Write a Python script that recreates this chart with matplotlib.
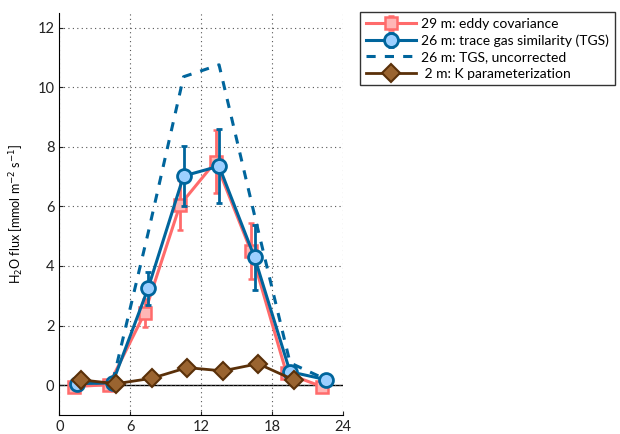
import matplotlib
matplotlib.use("Agg")
import matplotlib.pyplot as plt

plt.rcParams["font.family"] = ["Lato", "DejaVu Sans"]

# hour of day
hour_ec = [1.2, 4.2, 7.2, 10.2, 13.2, 16.2, 19.2, 22.2]
hour_tgs = [1.5, 4.5, 7.5, 10.5, 13.5, 16.5, 19.5, 22.5]
hour_k = [1.8, 4.8, 7.8, 10.8, 13.8, 16.8, 19.8]

# H2O flux [mmol m-2 s-1]
flux_ec = [-0.05, 0.02, 2.41, 6.05, 7.5, 4.5, 0.4, -0.05]
err_ec = [0, 0, 0.47, 0.85, 1.06, 0.93, 0, 0]
flux_tgs = [0.05, 0.08, 3.25, 7.02, 7.35, 4.29, 0.45, 0.19]
err_tgs = [0, 0, 0.55, 1.02, 1.23, 1.1, 0, 0]
flux_tgs_raw = [0.05, 0.1, 5.1, 10.35, 10.75, 5.7, 0.75, 0.2]
flux_k = [0.18, 0.05, 0.23, 0.59, 0.48, 0.72, 0.18]

red = "#ff6b6b"
blue = "#00659c"
brown = "#5a3009"

fig = plt.figure(figsize=(6.2, 4.34), dpi=100)
ax = fig.add_axes([0.0957, 0.0438, 0.458, 0.927])

ax.axhline(0, color="black", linewidth=1, zorder=1)

ax.errorbar(hour_ec, flux_ec, yerr=err_ec, color=red, linewidth=2.2,
            marker="s", markersize=8.5, markerfacecolor="#ffb6b6",
            markeredgecolor=red, markeredgewidth=1.8, capsize=2.5,
            elinewidth=2, capthick=2, label="29 m: eddy covariance", zorder=3)
ax.plot(hour_tgs, flux_tgs_raw, color=blue, linewidth=2.2, linestyle=(0, (3, 3)),
        label="26 m: TGS, uncorrected", zorder=3.5)
ax.errorbar(hour_tgs, flux_tgs, yerr=err_tgs, color=blue, linewidth=2.2,
            marker="o", markersize=10, markerfacecolor="#9ccfff",
            markeredgecolor=blue, markeredgewidth=2, capsize=2.5,
            elinewidth=2, capthick=2,
            label="26 m: trace gas similarity (TGS)", zorder=4)
ax.plot(hour_k, flux_k, color=brown, linewidth=2, marker="D", markersize=9,
        markerfacecolor="#9a6430", markeredgecolor=brown, markeredgewidth=1.5,
        label=" 2 m: K parameterization", zorder=5)

ax.set_xlim(0, 24)
ax.set_ylim(-1, 12.5)
ax.set_xticks([0, 6, 12, 18, 24])
ax.set_yticks([0, 2, 4, 6, 8, 10, 12])
ax.grid(True, linestyle=(0, (1, 3)), color="#555555", linewidth=0.8)
ax.tick_params(direction="in", length=3, labelsize=10.5, colors="#222222")
for side in ["top", "right"]:
    ax.spines[side].set_visible(False)
ax.set_ylabel("H$_2$O flux [mmol m$^{-2}$ s$^{-1}$]", fontsize=9, labelpad=8)

handles, labels = ax.get_legend_handles_labels()
order = [labels.index(l) for l in ["29 m: eddy covariance",
                                   "26 m: trace gas similarity (TGS)",
                                   "26 m: TGS, uncorrected",
                                   " 2 m: K parameterization"]]
leg = fig.legend([handles[i] for i in order], [labels[i] for i in order],
                 loc="upper left", bbox_to_anchor=(0.581, 0.972),
                 fontsize=10, handlelength=3.6, handletextpad=0.4,
                 labelspacing=0.32, borderpad=0.4, borderaxespad=0,
                 frameon=True, fancybox=False)
leg.get_frame().set_edgecolor("black")
leg.get_frame().set_linewidth(1)

fig.savefig("out.png", dpi=100)
